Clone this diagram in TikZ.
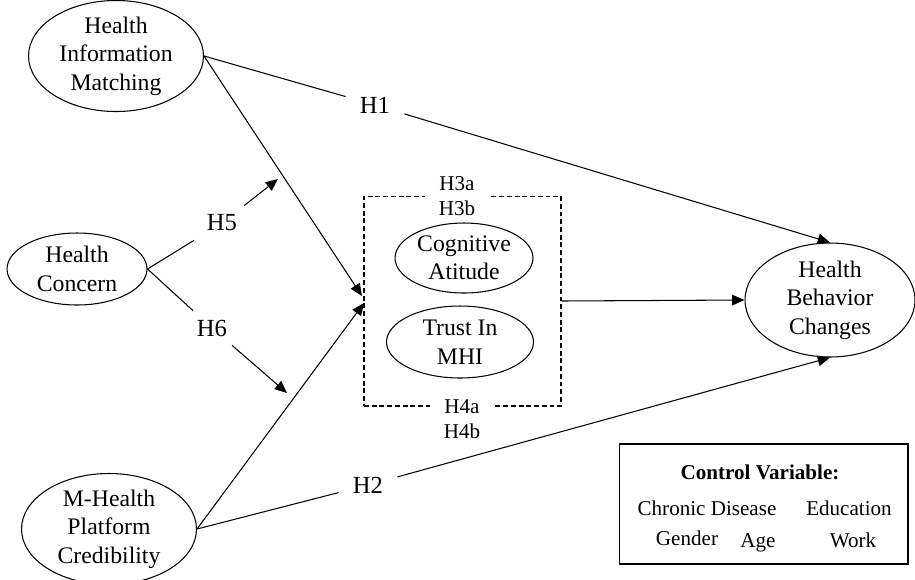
\documentclass[tikz,border=0pt]{standalone}
\usepackage{fontspec}
\setmainfont{Liberation Serif}
\usetikzlibrary{shapes.geometric,arrows.meta}

\begin{document}
\begin{tikzpicture}[x=0.02cm, y=-0.02cm,
  construct/.style={draw, ellipse, line width=0.6pt, inner sep=0pt, align=center, font=\fontsize{13.5}{16.2}\selectfont},
  hyp/.style={inner xsep=8pt, inner ysep=5pt, font=\fontsize{14}{16}\selectfont},
  subhyp/.style={fill=white, inner xsep=8pt, inner ysep=1pt, align=center, font=\fontsize{12}{14.2}\selectfont},
  ctrltext/.style={anchor=base, inner sep=0pt, font=\fontsize{12}{14}\selectfont},
  link/.style={line width=0.6pt},
  >={Triangle[length=7pt,width=6pt]}
]
\useasboundingbox (0,0) rectangle (915,579);

% Constructs
\node[construct, minimum width=3.5cm, minimum height=2cm] (him) at (116,56) {Health\\Information\\Matching};
\node[construct, minimum width=2.8cm, minimum height=1.44cm] (concern) at (77,269) {Health\\Concern};
\node[construct, minimum width=3.5cm, minimum height=1.96cm] (mhealth) at (109,529) {M-Health\\Platform\\Credibility};
\node[construct, minimum width=3.4cm, minimum height=2.28cm] (hbc) at (830,300) {Health\\Behavior\\Changes};

% Mediators
\node[draw, line width=0.6pt, dash pattern=on 2.8pt off 1.6pt, minimum width=3.94cm, minimum height=4.2cm] (mediator) at (462.5,301) {};
\node[construct, minimum width=2.76cm, minimum height=1.4cm] (cognitive) at (464,258) {Cognitive\\Atitude};
\node[construct, minimum width=2.94cm, minimum height=1.44cm] (trust) at (460,342) {Trust In\\MHI};
\node[subhyp] (hthree) at (457,196) {H3a\\H3b};
\node[subhyp] (hfour) at (462,419) {H4a\\H4b};

% Hypothesis labels
\node[hyp] (hone) at (375,105) {H1};
\node[hyp] (htwo) at (368,485) {H2};
\node[hyp] (hfive) at (222,223) {H5};
\node[hyp] (hsix) at (212,328) {H6};

% Free ends
\coordinate (himtip) at (362,296);
\coordinate (mhtip) at (364,303);
\coordinate (hfivetip) at (278,179);
\coordinate (hsixtip) at (287,393);

% Paths
\draw[link] (him.east) -- (hone);
\draw[link,->] (hone) -- (hbc.north);
\draw[link,->] (him.east) -- (himtip);
\draw[link,->] (mhealth.east) -- (mhtip);
\draw[link] (mhealth.east) -- (htwo);
\draw[link,->] (htwo) -- (hbc.south);
\draw[link,->] (mediator.east) -- (hbc.west);

% Moderation
\draw[link] (concern.east) -- (hfive);
\draw[link,->] (hfive) -- (hfivetip);
\draw[link] (concern.east) -- (hsix);
\draw[link,->] (hsix) -- (hsixtip);

% Control variables
\node[draw, line width=0.6pt, minimum width=5.78cm, minimum height=2.4cm] (control) at (763.5,504) {};
\node[ctrltext, font=\fontsize{12}{14}\selectfont\bfseries] (ctrltitle) at (760,479) {Control Variable:};
\node[ctrltext] (chronic) at (707,515) {Chronic Disease};
\node[ctrltext] (education) at (849,515) {Education};
\node[ctrltext] (gender) at (687,545) {Gender};
\node[ctrltext] (age) at (758,547) {Age};
\node[ctrltext] (work) at (853,547) {Work};

\end{tikzpicture}
\end{document}
